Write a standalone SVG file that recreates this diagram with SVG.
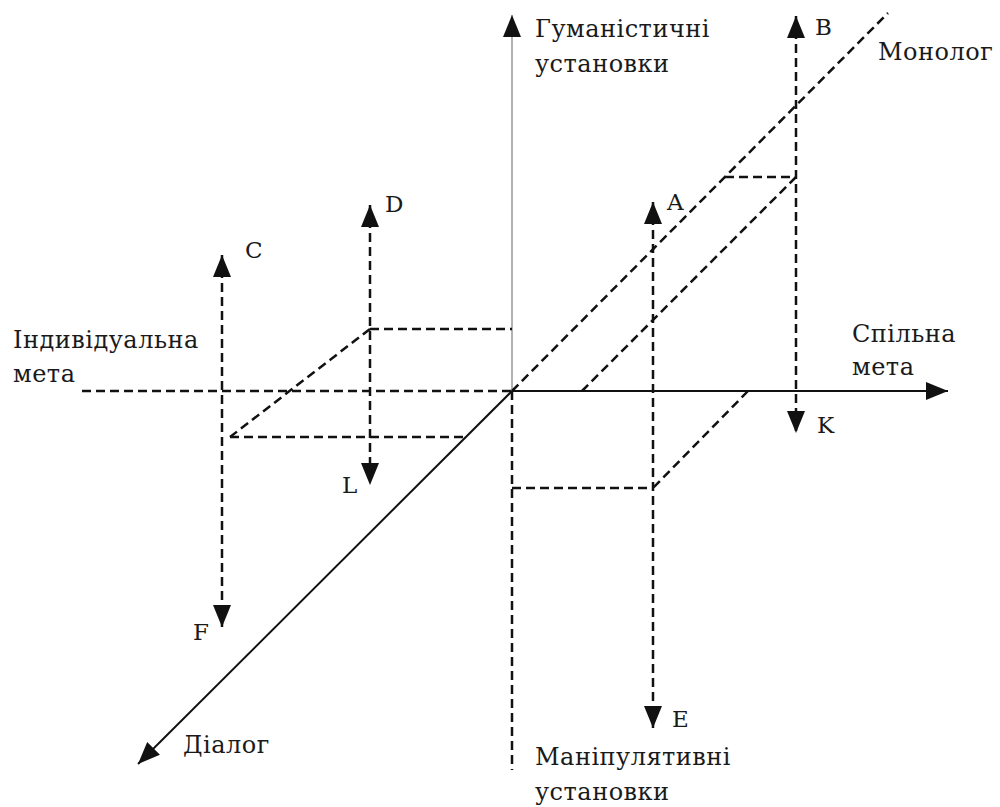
<svg xmlns="http://www.w3.org/2000/svg" width="1000" height="807" viewBox="0 0 1000 807">
<style>
.lbl{font-family:"DejaVu Serif","Liberation Serif",serif;font-size:24px;letter-spacing:0.5px;fill:#1a1a1a}
.let{font-family:"DejaVu Serif","Liberation Serif",serif;font-size:23px;fill:#1a1a1a}
.d{stroke:#111;stroke-width:2.5;stroke-dasharray:9 5;fill:none}
.s{stroke:#111;stroke-width:2;fill:none}
</style>
<defs>
<marker id="ah" markerUnits="userSpaceOnUse" markerWidth="22" markerHeight="18" refX="22" refY="9" orient="auto-start-reverse" viewBox="0 0 22 18">
<path d="M0,0 L22,9 L0,18 Z" fill="#111"/>
</marker>
</defs>
<rect width="1000" height="807" fill="#fff"/>
<g id="connectors">
<line x1="512" y1="391" x2="512" y2="15" stroke="#999" stroke-width="1.5" marker-end="url(#ah)"/>
<line class="s" x1="512" y1="391" x2="948" y2="391" stroke-width="2.5" marker-end="url(#ah)"/>
<line class="d" x1="82" y1="391" x2="512" y2="391"/>
<line class="s" x1="512" y1="391" x2="138" y2="764" marker-end="url(#ah)"/>
<line class="d" x1="512" y1="391" x2="888" y2="13"/>
<line class="d" x1="512" y1="391" x2="512" y2="770" stroke-width="2.8"/>
<line class="d" x1="796" y1="16" x2="796" y2="433" marker-start="url(#ah)" marker-end="url(#ah)"/>
<line class="d" x1="725" y1="177" x2="796" y2="177"/>
<line class="d" x1="796" y1="177" x2="582" y2="391"/>
<line class="d" x1="653" y1="202" x2="653" y2="728" marker-start="url(#ah)" marker-end="url(#ah)"/>
<line class="d" x1="748" y1="391" x2="653" y2="488"/>
<line class="d" x1="512" y1="488" x2="653" y2="488"/>
<line class="d" x1="222" y1="255" x2="222" y2="627" marker-start="url(#ah)" marker-end="url(#ah)"/>
<line class="d" x1="370" y1="205" x2="370" y2="485" marker-start="url(#ah)" marker-end="url(#ah)"/>
<line class="d" x1="370" y1="329" x2="512" y2="329"/>
<line class="d" x1="370" y1="329" x2="230" y2="437"/>
<line class="d" x1="230" y1="437" x2="465" y2="437"/>
</g>
<g id="axis-humanistic"><text class="lbl" x="535" y="37">Гуманістичні</text><text class="lbl" x="535" y="72">установки</text></g>
<g id="axis-manipulative"><text class="lbl" x="535" y="765">Маніпулятивні</text><text class="lbl" x="535" y="800">установки</text></g>
<g id="axis-individual"><text class="lbl" x="13" y="348">Індивідуальна</text><text class="lbl" x="13" y="382">мета</text></g>
<g id="axis-common"><text class="lbl" x="852" y="342">Спільна</text><text class="lbl" x="852" y="375">мета</text></g>
<g id="axis-monolog"><text class="lbl" x="878" y="60">Монолог</text></g>
<g id="axis-dialog"><text class="lbl" x="183" y="753">Діалог</text></g>
<g id="point-A"><text class="let" x="667" y="210">A</text></g>
<g id="point-B"><text class="let" x="815" y="35">B</text></g>
<g id="point-C"><text class="let" x="245" y="258">C</text></g>
<g id="point-D"><text class="let" x="385" y="212">D</text></g>
<g id="point-E"><text class="let" x="672" y="727">E</text></g>
<g id="point-F"><text class="let" x="193" y="640">F</text></g>
<g id="point-K"><text class="let" x="817" y="433">K</text></g>
<g id="point-L"><text class="let" x="342" y="493">L</text></g>
</svg>
